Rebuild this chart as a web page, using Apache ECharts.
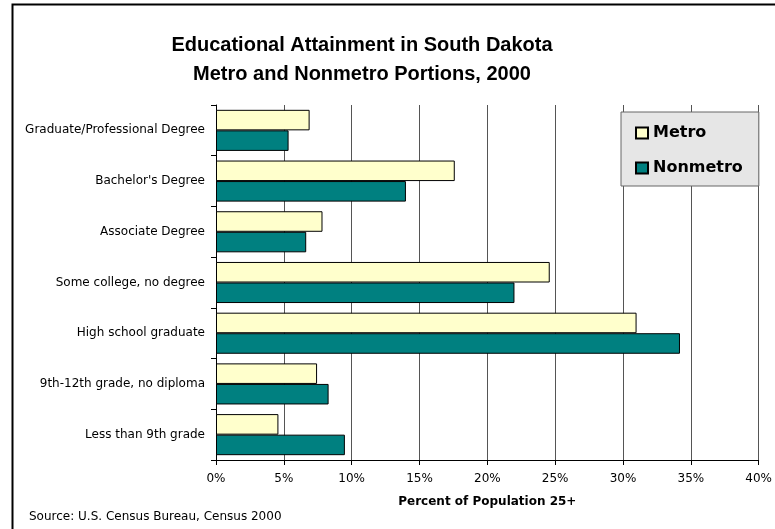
<!DOCTYPE html>
<html>
<head>
<meta charset="utf-8">
<script src="https://cdn.jsdelivr.net/npm/echarts@6/dist/echarts.min.js"></script>
<style>html,body{margin:0;padding:0;background:#fff;}#chart{width:775px;height:529px;}</style>
</head>
<body>
<div id="chart"></div>
<script>
const categories = [
  "Graduate/Professional Degree",
  "Bachelor's Degree",
  "Associate Degree",
  "Some college, no degree",
  "High school graduate",
  "9th-12th grade, no diploma",
  "Less than 9th grade"
];
const metro = [6.9, 17.6, 7.85, 24.6, 31.0, 7.45, 4.6];
const nonmetro = [5.35, 14.0, 6.65, 22.0, 34.2, 8.3, 9.5];
const xTicks = [0, 5, 10, 15, 20, 25, 30, 35, 40];

const chart = echarts.init(document.getElementById('chart'), null, {renderer: 'canvas'});
const font = 'DejaVu Sans';
chart.setOption({
  animation: false,
  backgroundColor: '#ffffff',
  title: {
    text: 'Educational Attainment in South Dakota\nMetro and Nonmetro Portions, 2000',
    left: 357, textAlign: 'center', top: 26,
    textStyle: {fontFamily: 'Liberation Sans', fontWeight: 'bold', fontSize: 20, lineHeight: 29, color: '#000'}
  },
  legend: {
    orient: 'vertical', left: 621, top: 112,
    backgroundColor: '#e6e6e6', borderColor: '#666', borderWidth: 1,
    padding: [13, 16, 10, 14],
    icon: 'rect',
    itemWidth: 12, itemHeight: 11, itemGap: 19,
    textStyle: {fontFamily: font, fontWeight: 'bold', fontSize: 16, color: '#000'},
    data: ['Metro', 'Nonmetro']
  },
  grid: {left: 216, right: 16, top: 105, bottom: 69, containLabel: false},
  xAxis: {
    type: 'value', min: xTicks[0], max: xTicks[xTicks.length - 1], interval: 5,
    name: 'Percent of Population 25+', nameLocation: 'middle', nameGap: 36,
    nameTextStyle: {fontFamily: font, fontWeight: 'bold', fontSize: 12, color: '#000'},
    axisLine: {show: true, lineStyle: {color: '#000', width: 1}},
    axisTick: {show: true, length: 5, lineStyle: {color: '#000'}},
    axisLabel: {formatter: '{value}%', fontFamily: font, fontSize: 12, color: '#000', margin: 13},
    splitLine: {show: true, lineStyle: {color: '#555', width: 1}}
  },
  yAxis: {
    type: 'category', data: categories, inverse: true,
    axisLine: {show: true, lineStyle: {color: '#000', width: 1}},
    axisTick: {show: true, length: 5, lineStyle: {color: '#000'}},
    axisLabel: {fontFamily: font, fontSize: 12, color: '#000', margin: 11},
    splitLine: {show: false}
  },
  series: [
    {name: 'Metro', type: 'bar', data: metro, barGap: '0%', barCategoryGap: '19%',
     itemStyle: {color: '#FFFFCC', borderColor: '#000', borderWidth: 1}},
    {name: 'Nonmetro', type: 'bar', data: nonmetro, barGap: '0%', barCategoryGap: '19%',
     itemStyle: {color: '#008080', borderColor: '#000', borderWidth: 1}}
  ],
  graphic: [
    {type: 'rect', left: 10, top: 2, shape: {width: 800, height: 600}, style: {fill: 'none', stroke: '#000', lineWidth: 2}, silent: true},
    {type: 'text', left: 29, top: 511, style: {text: 'Source: U.S. Census Bureau, Census 2000', fontFamily: font, fontSize: 12, fill: '#000'}}
  ]
});
</script>
</body>
</html>
